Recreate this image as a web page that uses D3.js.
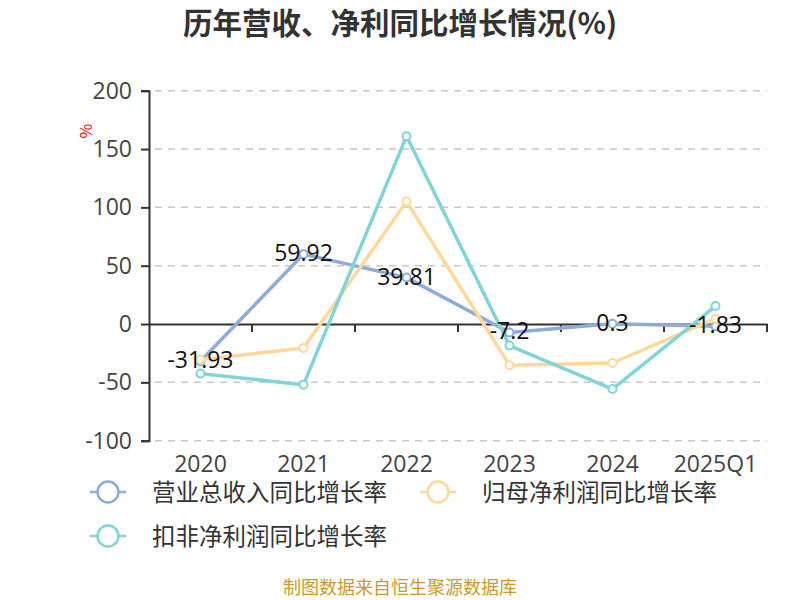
<!DOCTYPE html>
<html>
<head>
<meta charset="utf-8">
<script src="https://cdn.jsdelivr.net/npm/d3@7/dist/d3.min.js"></script>
<style>
  body { margin: 0; background: #fff; }
  text { font-family: "Noto Sans CJK SC", "Noto Sans", sans-serif; }
</style>
</head>
<body>
<div id="chart"></div>
<script>
// categories and series
const years = ["2020", "2021", "2022", "2023", "2024", "2025Q1"];
const revenue = [-31.93, 59.92, 39.81, -7.2, 0.3, -1.83];
const netProfit = [-30.5, -20.6, 105, -35.4, -33.4, 4.6];
const deductedProfit = [-42.5, -52, 161, -18.5, -55.7, 15.4];
const yTicks = [200, 150, 100, 50, 0, -50, -100];

const series = [
  { name: "营业总收入同比增长率", values: revenue, color: "#8eacda" },
  { name: "归母净利润同比增长率", values: netProfit, color: "#fed99b" },
  { name: "扣非净利润同比增长率", values: deductedProfit, color: "#82d4d7" }
];

const width = 800, height = 600;
const numFont = "'Open Sans', 'Noto Sans', sans-serif";
const svg = d3.select("#chart").append("svg")
  .attr("width", width)
  .attr("height", height);

const x = d3.scaleBand().domain(years).range([149, 767]);
const y = d3.scaleLinear().domain([-100, 200]).range([440.7, 90.7]);

// title
svg.append("text")
  .attr("x", 400).attr("y", 34)
  .attr("text-anchor", "middle")
  .attr("font-size", 29.5).attr("font-weight", "bold")
  .attr("fill", "#333")
  .text("历年营收、净利同比增长情况(%)");

// grid
svg.append("g").selectAll("line")
  .data(yTicks.filter(d => d !== 0))
  .enter().append("line")
  .attr("x1", 155).attr("x2", 767)
  .attr("y1", d => y(d)).attr("y2", d => y(d))
  .attr("stroke", "#c8c8c8")
  .attr("stroke-width", 1.5)
  .attr("stroke-dasharray", "7,6");

// y axis
const yAxis = svg.append("g")
  .attr("transform", "translate(149,0)")
  .call(d3.axisLeft(y).tickValues(yTicks).tickSize(8).tickPadding(9).tickFormat(d => String(d)));
yAxis.select(".domain").attr("stroke", "#333").attr("stroke-width", 2);
yAxis.selectAll(".tick line").attr("stroke", "#333").attr("stroke-width", 2);
yAxis.selectAll(".tick text")
  .attr("font-size", 23).attr("fill", "#444")
  .style("font-family", numFont);

// x axis at zero
const xAxis = svg.append("g")
  .attr("transform", `translate(0,${y(0)})`)
  .call(d3.axisBottom(x).tickSize(0).tickFormat(""));
xAxis.select(".domain").attr("stroke", "#333").attr("stroke-width", 2);
svg.append("g").selectAll("line")
  .data(years)
  .enter().append("line")
  .attr("x1", d => x(d) + x.step())
  .attr("x2", d => x(d) + x.step())
  .attr("y1", y(0)).attr("y2", y(0) + 8)
  .attr("stroke", "#333").attr("stroke-width", 2);

// x labels below the plot
svg.append("g").selectAll("text")
  .data(years)
  .enter().append("text")
  .attr("x", d => x(d) + x.bandwidth() / 2)
  .attr("y", 472)
  .attr("text-anchor", "middle")
  .attr("font-size", 23).attr("fill", "#444")
  .style("font-family", numFont)
  .text(d => d);

// unit label
svg.append("text")
  .attr("transform", "translate(92,131) rotate(-90)")
  .attr("text-anchor", "middle")
  .attr("font-size", 16).attr("fill", "red")
  .text("%");

const line = d3.line()
  .x((d, i) => x(years[i]) + x.bandwidth() / 2)
  .y(d => y(d));

series.forEach(s => {
  svg.append("path")
    .datum(s.values)
    .attr("d", line)
    .attr("fill", "none")
    .attr("stroke", s.color)
    .attr("stroke-width", 3.5)
    .attr("stroke-linejoin", "round");
});

series.forEach(s => {
  svg.append("g").selectAll("circle")
    .data(s.values)
    .enter().append("circle")
    .attr("cx", (d, i) => x(years[i]) + x.bandwidth() / 2)
    .attr("cy", d => y(d))
    .attr("r", 4)
    .attr("fill", "#fff")
    .attr("stroke", s.color)
    .attr("stroke-width", 2);
});

// value labels for revenue
svg.append("g").selectAll("text")
  .data(revenue)
  .enter().append("text")
  .attr("x", (d, i) => x(years[i]) + x.bandwidth() / 2)
  .attr("y", d => y(d) + 7)
  .attr("text-anchor", "middle")
  .attr("font-size", 23).attr("fill", "#111")
  .style("font-family", numFont)
  .text(d => d);

// legend
const legendPos = [[90, 492], [420, 492], [90, 536]];
series.forEach((s, i) => {
  const [lx, ly] = legendPos[i];
  const g = svg.append("g").attr("transform", `translate(${lx},${ly})`);
  g.append("line")
    .attr("x1", 0).attr("x2", 36)
    .attr("stroke", s.color).attr("stroke-width", 2.5);
  g.append("circle")
    .attr("cx", 18).attr("r", 10.5)
    .attr("fill", "#fff")
    .attr("stroke", s.color).attr("stroke-width", 2.5);
  g.append("text")
    .attr("x", 62).attr("y", 9)
    .attr("font-size", 23.5).attr("fill", "#333")
    .text(s.name);
});

// footer
svg.append("text")
  .attr("x", 400).attr("y", 594)
  .attr("text-anchor", "middle")
  .attr("font-size", 18).attr("fill", "#c99a2e")
  .text("制图数据来自恒生聚源数据库");
</script>
</body>
</html>
